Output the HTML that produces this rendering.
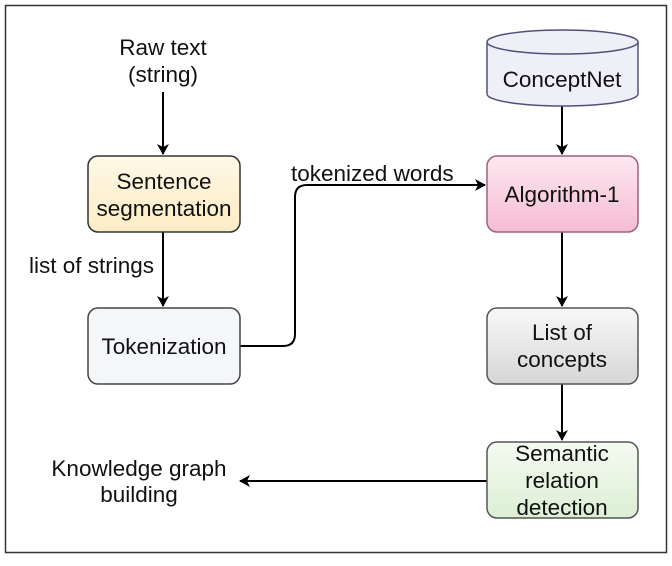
<!DOCTYPE html>
<html><head><style>body{margin:0;background:#fff}</style></head><body>
<svg width="672" height="561" xmlns="http://www.w3.org/2000/svg" font-family="Liberation Sans, Arial, sans-serif" font-size="22.5" fill="#111">
<defs>
<marker id="a" markerWidth="12" markerHeight="12" refX="10" refY="6" orient="auto" markerUnits="userSpaceOnUse"><path d="M0,0 L11,6 L0,12 L3,6 Z" fill="#000"/></marker>
<linearGradient id="y" x1="0" y1="0" x2="0" y2="1"><stop offset="0" stop-color="#fff8e6"/><stop offset="1" stop-color="#fbecc4"/></linearGradient>
<linearGradient id="p" x1="0" y1="0" x2="0" y2="1"><stop offset="0" stop-color="#fde8f0"/><stop offset="1" stop-color="#f5bcd2"/></linearGradient>
<linearGradient id="g" x1="0" y1="0" x2="0" y2="1"><stop offset="0" stop-color="#f8f8f8"/><stop offset="1" stop-color="#d6d6d6"/></linearGradient>
<linearGradient id="gr" x1="0" y1="0" x2="0" y2="1"><stop offset="0" stop-color="#f4faf0"/><stop offset="1" stop-color="#dcefd5"/></linearGradient>
</defs>
<rect x="5.5" y="5.5" width="661" height="547" fill="none" stroke="#333" stroke-width="1.5"/>
<g stroke="#000" stroke-width="2" fill="none">
<line x1="163" y1="92" x2="163" y2="154" marker-end="url(#a)"/>
<line x1="163" y1="232" x2="163" y2="306" marker-end="url(#a)"/>
<path d="M240,346 H283 Q295,346 295,334 V197 Q295,185 307,185 H485" marker-end="url(#a)"/>
<line x1="562" y1="106" x2="562" y2="154" marker-end="url(#a)"/>
<line x1="562" y1="232" x2="562" y2="306" marker-end="url(#a)"/>
<line x1="562" y1="384" x2="562" y2="440" marker-end="url(#a)"/>
<line x1="487" y1="481" x2="240" y2="481" marker-end="url(#a)"/>
</g>
<rect x="88" y="156" width="152" height="76" rx="10" fill="url(#y)" stroke="#333" stroke-width="1.5"/>
<rect x="88" y="308" width="152" height="76" rx="10" fill="#f4f6f9" stroke="#444" stroke-width="1.5"/>
<rect x="487" y="156" width="151" height="76" rx="10" fill="url(#p)" stroke="#a06080" stroke-width="1.5"/>
<rect x="487" y="308" width="151" height="76" rx="10" fill="url(#g)" stroke="#555" stroke-width="1.5"/>
<rect x="487" y="442" width="151" height="76" rx="10" fill="url(#gr)" stroke="#555" stroke-width="1.5"/>
<path d="M487,42 V94 A75.5,12 0 0 0 638,94 V42" fill="#efeff8" stroke="#50507a" stroke-width="1.5"/>
<ellipse cx="562.5" cy="42" rx="75.5" ry="12" fill="#efeff8" stroke="#50507a" stroke-width="1.5"/>
<g text-anchor="middle">
<text x="163" y="55">Raw text</text>
<text x="163" y="82">(string)</text>
<text x="164" y="189">Sentence</text>
<text x="164" y="216">segmentation</text>
<text x="164" y="354">Tokenization</text>
<text x="562" y="87">ConceptNet</text>
<text x="562" y="202">Algorithm-1</text>
<text x="562" y="340">List of</text>
<text x="562" y="367">concepts</text>
<text x="562" y="461">Semantic</text>
<text x="562" y="488">relation</text>
<text x="562" y="515">detection</text>
<text x="139" y="476">Knowledge graph</text>
<text x="139" y="502">building</text>
</g>
<text x="29" y="273">list of strings</text>
<text x="291" y="181">tokenized words</text>
</svg>
</body></html>
